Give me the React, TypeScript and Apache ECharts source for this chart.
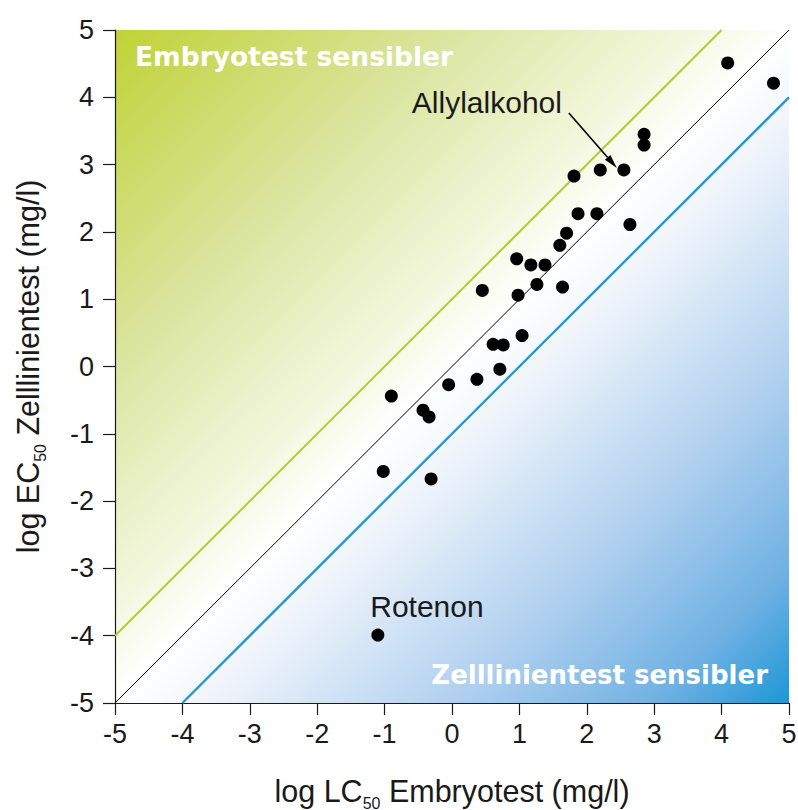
import React, { useEffect, useRef } from 'react';
import * as echarts from 'echarts';

// log LC50 Embryotest (x) and log EC50 Zelllinientest (y)
const LC50 = [4.09, 4.77, 2.85, 2.85, 2.55, 2.2, 1.81, 1.87, 2.15, 2.64, 1.7, 1.6, 0.96, 1.17, 1.38, 0.45, 1.26, 1.64, 0.98, 1.04, 0.61, 0.76, 0.71, 0.37, -0.05, -0.9, -0.43, -0.34, -1.02, -0.31, -1.1];
const EC50 = [4.51, 4.21, 3.45, 3.29, 2.92, 2.92, 2.83, 2.27, 2.27, 2.11, 1.98, 1.8, 1.6, 1.51, 1.51, 1.13, 1.22, 1.18, 1.06, 0.46, 0.33, 0.32, -0.04, -0.19, -0.27, -0.44, -0.65, -0.75, -1.56, -1.67, -3.99];
const ALLYL_INDEX = 4;
const ROTENON_INDEX = 30;

const AXIS_MIN = -5;
const AXIS_MAX = 5;
const TICK_STEP = 1;

const LINE_EQUAL = [[-5, -5], [5, 5]];
const LINE_UPPER = [[-5, -4], [4, 5]];
const LINE_LOWER = [[-4, -5], [5, 4]];

const FONT = "'Liberation Sans', Arial, sans-serif";
const BOLD_FONT = "'DejaVu Sans', sans-serif";
const INK = '#1a1a1a';

export default function App() {
  const ref = useRef<HTMLDivElement>(null);
  useEffect(() => {
    if (!ref.current) return;
    const chart = echarts.init(ref.current, undefined, { renderer: 'svg' });
    const points = LC50.map((x, i) => [x, EC50[i]]);

    const axisCommon = {
      type: 'value',
      min: AXIS_MIN,
      max: AXIS_MAX,
      interval: TICK_STEP,
      nameLocation: 'middle',
      axisLine: { show: true, onZero: false, lineStyle: { color: INK, width: 1.2 } },
      axisTick: { show: true, inside: false, length: 12, lineStyle: { color: INK, width: 1.2 } },
      splitLine: { show: false },
    };
    const nameRich = {
      t: { fontSize: 30.5, fontFamily: FONT, color: INK, lineHeight: 40 },
      s: { fontSize: 16, fontFamily: FONT, color: INK, lineHeight: 16, verticalAlign: 'bottom' },
    };

    const option: any = {
      animation: false,
      backgroundColor: '#ffffff',
      grid: {
        left: 115,
        width: 674,
        top: 30,
        height: 673,
        containLabel: false,
        outerBoundsMode: 'none',
      },
      xAxis: {
        ...axisCommon,
        name: '{t|log LC}{s|50}{t| Embryotest (mg/l)}',
        nameGap: 68,
        nameTextStyle: { rich: nameRich },
        axisLabel: { fontSize: 27, color: INK, fontFamily: FONT, margin: 17 },
      },
      yAxis: {
        ...axisCommon,
        name: '{t|log EC}{s|50}{t| Zelllinientest (mg/l)}',
        nameGap: 67,
        nameTextStyle: { rich: nameRich },
        axisLabel: { fontSize: 27, color: INK, fontFamily: FONT, margin: 21 },
      },
      series: [
        {
          type: 'custom',
          silent: true,
          z: 0,
          data: [[0, 0], [1, 0]],
          renderItem: (params: any, api: any) => {
            const which = api.value(0);
            const tl = api.coord([AXIS_MIN, AXIS_MAX]);
            const bl = api.coord([AXIS_MIN, AXIS_MIN]);
            const tr = api.coord([AXIS_MAX, AXIS_MAX]);
            const br = api.coord([AXIS_MAX, AXIS_MIN]);
            if (which === 0) {
              return {
                type: 'polygon',
                shape: { points: [bl, tl, tr] },
                style: {
                  fill: new echarts.graphic.LinearGradient(0, 0, 0.5, 0.5, [
                    { offset: 0, color: '#c0d236' },
                    { offset: 0.5, color: '#dae5a0' },
                    { offset: 0.85, color: '#f3f7dd' },
                    { offset: 1, color: '#ffffff' },
                  ]),
                },
              };
            }
            return {
              type: 'polygon',
              shape: { points: [bl, br, tr] },
              style: {
                fill: new echarts.graphic.LinearGradient(0.5, 0.5, 1, 1, [
                  { offset: 0, color: '#ffffff' },
                  { offset: 0.12, color: '#f2f6fc' },
                  { offset: 0.5, color: '#b0d0ef' },
                  { offset: 0.8, color: '#70b1e3' },
                  { offset: 1, color: '#1b97d6' },
                ]),
              },
            };
          },
        },
        {
          type: 'line',
          data: LINE_UPPER,
          showSymbol: false,
          silent: true,
          z: 2,
          lineStyle: { color: '#b3cc36', width: 2 },
        },
        {
          type: 'line',
          data: LINE_EQUAL,
          showSymbol: false,
          silent: true,
          z: 2,
          lineStyle: { color: '#000000', width: 1 },
        },
        {
          type: 'line',
          data: LINE_LOWER,
          showSymbol: false,
          silent: true,
          z: 2,
          lineStyle: { color: '#1d9ad6', width: 2.4 },
        },
        {
          type: 'scatter',
          data: points,
          symbol: 'circle',
          symbolSize: 13,
          z: 5,
          itemStyle: { color: '#000000', opacity: 1 },
        },
      ],
    };
    chart.setOption(option);

    const pa = chart.convertToPixel({ gridIndex: 0 }, points[ALLYL_INDEX]) as number[];
    const pr = chart.convertToPixel({ gridIndex: 0 }, points[ROTENON_INDEX]) as number[];
    const s = [pa[0] - 55, pa[1] - 57];
    const t = [pa[0] - 7, pa[1] - 2];
    const dx = t[0] - s[0];
    const dy = t[1] - s[1];
    const len = Math.sqrt(dx * dx + dy * dy);
    const ux = dx / len;
    const uy = dy / len;
    const hl = 14;
    const hw = 3.6;
    const base = [t[0] - ux * hl, t[1] - uy * hl];

    chart.setOption({
      graphic: [
        {
          type: 'text',
          z: 10,
          style: {
            text: 'Embryotest sensibler',
            x: 135,
            y: 56,
            fill: '#ffffff',
            font: `bold 26.5px ${BOLD_FONT}`,
            textAlign: 'left',
            textVerticalAlign: 'middle',
            verticalAlign: 'middle',
          },
        },
        {
          type: 'text',
          z: 10,
          style: {
            text: 'Zelllinientest sensibler',
            x: 768,
            y: 675,
            fill: '#ffffff',
            font: `bold 26px ${BOLD_FONT}`,
            textAlign: 'right',
            textVerticalAlign: 'middle',
            verticalAlign: 'middle',
          },
        },
        {
          type: 'text',
          z: 10,
          style: {
            text: 'Allylalkohol',
            x: pa[0] - 212,
            y: pa[1] - 57 - 10.5,
            fill: INK,
            font: `30px ${FONT}`,
            textAlign: 'left',
            textVerticalAlign: 'middle',
            verticalAlign: 'middle',
          },
        },
        {
          type: 'text',
          z: 10,
          style: {
            text: 'Rotenon',
            x: pr[0] - 7.6,
            y: pr[1] - 17.6 - 10.5,
            fill: INK,
            font: `30px ${FONT}`,
            textAlign: 'left',
            textVerticalAlign: 'middle',
            verticalAlign: 'middle',
          },
        },
        {
          type: 'line',
          z: 10,
          shape: { x1: s[0], y1: s[1], x2: base[0], y2: base[1] },
          style: { stroke: '#000000', lineWidth: 1.6 },
        },
        {
          type: 'polygon',
          z: 10,
          shape: {
            points: [
              t,
              [base[0] - uy * hw, base[1] + ux * hw],
              [base[0] + uy * hw, base[1] - ux * hw],
            ],
          },
          style: { fill: '#000000' },
        },
      ],
    });

    return () => chart.dispose();
  }, []);
  return (
    <div
      ref={ref}
      style={{ position: 'fixed', left: 0, top: 0, width: 798, height: 810 }}
    />
  );
}
